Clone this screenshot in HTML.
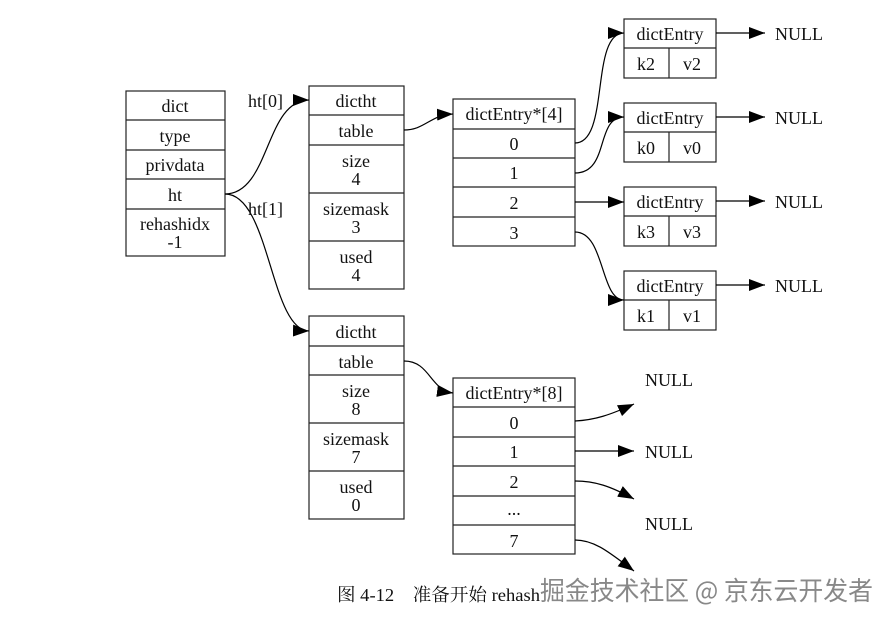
<!DOCTYPE html>
<html><head><meta charset="utf-8"><style>
html,body{margin:0;padding:0;background:#fff;}
svg{display:block;}
text{font-family:"Liberation Serif","Noto Serif CJK SC",serif;font-size:18px;fill:#111;}
</style></head><body>
<svg width="893" height="623" viewBox="0 0 893 623" xmlns="http://www.w3.org/2000/svg">
<defs>
<marker id="b" markerWidth="16" markerHeight="12" refX="16" refY="6" orient="auto" markerUnits="userSpaceOnUse"><path d="M0,0 L16,6 L0,12 z" fill="#000"/></marker></defs>
<g fill="none" stroke="#222" stroke-width="1.2">
<rect x="126" y="91" width="99" height="165"/>
<line x1="126" y1="120" x2="225" y2="120"/><line x1="126" y1="150" x2="225" y2="150"/><line x1="126" y1="179" x2="225" y2="179"/><line x1="126" y1="209" x2="225" y2="209"/>
<rect x="309" y="86" width="95" height="203"/>
<line x1="309" y1="115" x2="404" y2="115"/><line x1="309" y1="145" x2="404" y2="145"/><line x1="309" y1="193" x2="404" y2="193"/><line x1="309" y1="241" x2="404" y2="241"/>
<rect x="309" y="316" width="95" height="203"/>
<line x1="309" y1="346" x2="404" y2="346"/><line x1="309" y1="375" x2="404" y2="375"/><line x1="309" y1="423" x2="404" y2="423"/><line x1="309" y1="471" x2="404" y2="471"/>
<rect x="453" y="99" width="122" height="147"/>
<line x1="453" y1="129" x2="575" y2="129"/><line x1="453" y1="158" x2="575" y2="158"/><line x1="453" y1="187" x2="575" y2="187"/><line x1="453" y1="217" x2="575" y2="217"/>
<rect x="453" y="378" width="122" height="176"/>
<line x1="453" y1="407" x2="575" y2="407"/><line x1="453" y1="437" x2="575" y2="437"/><line x1="453" y1="466" x2="575" y2="466"/><line x1="453" y1="496" x2="575" y2="496"/><line x1="453" y1="525" x2="575" y2="525"/>
<rect x="624" y="19" width="92" height="59"/><line x1="624" y1="48" x2="716" y2="48"/><line x1="669" y1="48" x2="669" y2="78"/>
<rect x="624" y="103" width="92" height="59"/><line x1="624" y1="132" x2="716" y2="132"/><line x1="669" y1="132" x2="669" y2="162"/>
<rect x="624" y="187" width="92" height="59"/><line x1="624" y1="216" x2="716" y2="216"/><line x1="669" y1="216" x2="669" y2="246"/>
<rect x="624" y="271" width="92" height="59"/><line x1="624" y1="300" x2="716" y2="300"/><line x1="669" y1="300" x2="669" y2="330"/>
</g>
<g fill="none" stroke="#000" stroke-width="1.2">
<path d="M225,194 C270,194 265,100 309,100" marker-end="url(#b)"/>
<path d="M225,194 C270,194 270,330 309,331" marker-end="url(#b)"/>
<path d="M404,130 C425,130 430,115 453,114" marker-end="url(#b)"/>
<path d="M404,361 C430,361 430,390 453,393" marker-end="url(#b)"/>
<path d="M575,143 C610,143 590,33 624,33" marker-end="url(#b)"/>
<path d="M575,173 C610,173 595,117 624,117" marker-end="url(#b)"/>
<path d="M575,202 L624,202" marker-end="url(#b)"/>
<path d="M575,232 C605,232 600,300 624,300" marker-end="url(#b)"/>
<path d="M716,33 L765,33" marker-end="url(#b)"/>
<path d="M716,117 L765,117" marker-end="url(#b)"/>
<path d="M716,201 L765,201" marker-end="url(#b)"/>
<path d="M716,285 L765,285" marker-end="url(#b)"/>
<path d="M575,421 C595,420 610,415 634,404" marker-end="url(#b)"/>
<path d="M575,451 L634,451" marker-end="url(#b)"/>
<path d="M575,481 C595,481 610,486 634,499" marker-end="url(#b)"/>
<path d="M575,540 C595,540 610,553 634,571" marker-end="url(#b)"/>
</g>
<g text-anchor="middle">
<text x="175" y="112">dict</text><text x="175" y="142">type</text><text x="175" y="171">privdata</text><text x="175" y="201">ht</text><text x="175" y="230">rehashidx</text><text x="175" y="248">-1</text>
<text x="356" y="107">dictht</text><text x="356" y="137">table</text><text x="356" y="167">size</text><text x="356" y="185">4</text><text x="356" y="215">sizemask</text><text x="356" y="233">3</text><text x="356" y="263">used</text><text x="356" y="281">4</text>
<text x="356" y="338">dictht</text><text x="356" y="368">table</text><text x="356" y="397">size</text><text x="356" y="415">8</text><text x="356" y="445">sizemask</text><text x="356" y="463">7</text><text x="356" y="493">used</text><text x="356" y="511">0</text>
<text x="514" y="120">dictEntry*[4]</text><text x="514" y="150">0</text><text x="514" y="179">1</text><text x="514" y="209">2</text><text x="514" y="239">3</text>
<text x="514" y="399">dictEntry*[8]</text><text x="514" y="429">0</text><text x="514" y="458">1</text><text x="514" y="488">2</text><text x="514" y="515">...</text><text x="514" y="547">7</text>
<text x="670" y="40">dictEntry</text><text x="646" y="70">k2</text><text x="692" y="70">v2</text>
<text x="670" y="124">dictEntry</text><text x="646" y="154">k0</text><text x="692" y="154">v0</text>
<text x="670" y="208">dictEntry</text><text x="646" y="238">k3</text><text x="692" y="238">v3</text>
<text x="670" y="292">dictEntry</text><text x="646" y="322">k1</text><text x="692" y="322">v1</text>
</g>
<text x="248" y="107">ht[0]</text><text x="248" y="215">ht[1]</text>
<text x="775" y="40">NULL</text><text x="775" y="124">NULL</text><text x="775" y="208">NULL</text><text x="775" y="292">NULL</text>
<text x="645" y="386">NULL</text><text x="645" y="458">NULL</text><text x="645" y="530">NULL</text>
<text x="337" y="601" textLength="203" lengthAdjust="spacingAndGlyphs">图 4-12　准备开始 rehash</text>
<text x="540" y="600" textLength="333" lengthAdjust="spacingAndGlyphs" style="font-family:'Noto Sans CJK SC',sans-serif;font-size:26px;fill:#888">掘金技术社区 @ 京东云开发者</text>
</svg>
</body></html>
